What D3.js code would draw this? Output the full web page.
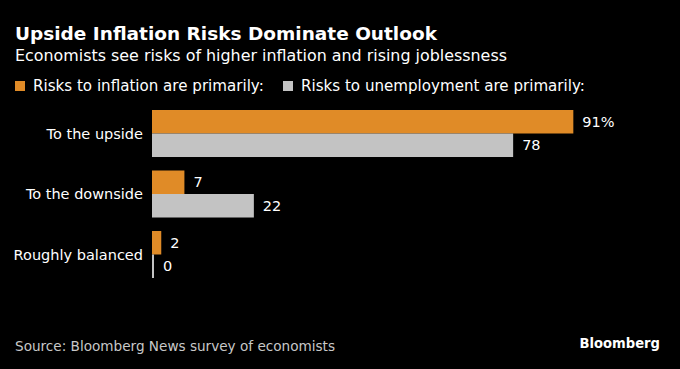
<!DOCTYPE html>
<html><head><meta charset="utf-8">
<script src="https://cdn.jsdelivr.net/npm/d3@7"></script>
<style>body{margin:0;background:#000}svg{display:block}text{font-family:"DejaVu Sans",sans-serif}text.brand{font-family:"DejaVu Sans Condensed","DejaVu Sans",sans-serif}</style>
</head><body><svg id="c" width="680" height="369"></svg>
<script>
const categories = ["To the upside", "To the downside", "Roughly balanced"];
const seriesNames = ["Risks to inflation are primarily:", "Risks to unemployment are primarily:"];
const inflation = [91, 7, 2];
const unemployment = [78, 22, 0];
const colors = ["#e08b27", "#c3c3c3"];

const svg = d3.select("#c");
svg.append("rect").attr("width",680).attr("height",369).attr("fill","#000");

svg.append("text").attr("x",15).attr("y",40).attr("fill","#fff").attr("font-weight","bold").attr("font-size",18.5).text("Upside Inflation Risks Dominate Outlook");
svg.append("text").attr("x",15).attr("y",61).attr("fill","#fff").attr("font-size",15.9).text("Economists see risks of higher inflation and rising joblessness");

// legend
const lx = [15, 283];
seriesNames.forEach((n,i)=>{
  svg.append("rect").attr("x",lx[i]).attr("y",81).attr("width",10).attr("height",10).attr("fill",colors[i]);
  svg.append("text").attr("x",lx[i]+18).attr("y",91).attr("fill","#fff").attr("font-size",15.1).text(n);
});

const x = d3.scaleLinear().domain([0,100]).range([152,615]);
const y = d3.scaleBand().domain(categories).range([110,278]).paddingInner(0.223).paddingOuter(0);
const sub = d3.scaleBand().domain([0,1]).range([0,y.bandwidth()]);

const data = categories.map((c,i)=>({c, vals:[inflation[i], unemployment[i]]}));
const g = svg.append("g");
data.forEach(d=>{
  d.vals.forEach((v,k)=>{
    const w = Math.max(x(v)-x(0), 2);
    g.append("rect").attr("x",x(0)).attr("y",y(d.c)+sub(k)).attr("width",w).attr("height",sub.bandwidth())
      .attr("fill",colors[k]);
    const label = (k===0 && d.c===categories[0]) ? v+"%" : String(v);
    g.append("text").attr("x",x(0)+w+9).attr("y",y(d.c)+sub(k)+sub.bandwidth()/2).attr("dy","0.36em")
      .attr("fill","#fff").attr("font-size",14.5).text(label);
  });
  g.append("text").attr("x",143).attr("y",y(d.c)+y.bandwidth()/2).attr("dy","0.36em").attr("text-anchor","end")
    .attr("fill","#fff").attr("font-size",14.5).text(d.c);
});

svg.append("text").attr("x",15).attr("y",351).attr("fill","#c8c8c8").attr("font-size",13.6).text("Source: Bloomberg News survey of economists");
svg.append("text").attr("class","brand").attr("x",660).attr("y",348).attr("text-anchor","end").attr("fill","#fff").attr("font-weight","bold")
  .attr("font-size",14.6).text("Bloomberg");
</script></body></html>
